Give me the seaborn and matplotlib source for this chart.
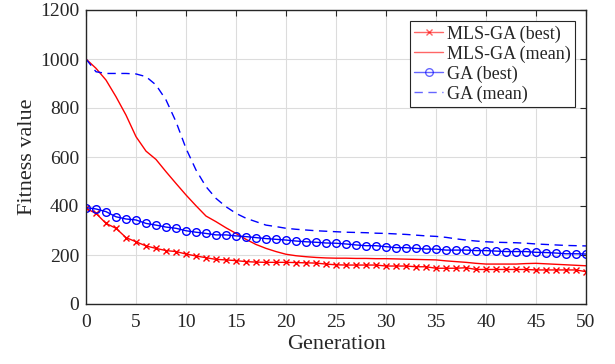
import matplotlib
matplotlib.use("Agg")
import matplotlib.pyplot as plt
import seaborn as sns
import pandas as pd

generations = list(range(51))
mls_best = [390, 370, 329, 309, 271, 254, 237, 227, 218, 214,
            204, 196, 189, 182, 180, 177, 173, 171, 170, 170,
            170, 169, 168, 167, 163, 160, 159, 159, 159, 159,
            155, 155, 155, 152, 152, 146, 146, 146, 148, 141,
            141, 141, 141, 141, 141, 139, 139, 139, 139, 139, 132]
mls_mean = [1000, 962, 914, 846, 771, 683, 624, 590, 540, 492,
            445, 401, 359, 336, 311, 288, 264, 243, 227, 214,
            203, 197, 193, 190, 188, 187, 187, 186, 186, 185,
            185, 184, 183, 182, 181, 180, 176, 173, 170, 166,
            163, 163, 163, 163, 165, 166, 164, 162, 160, 158, 156]
ga_best = [393, 388, 377, 356, 347, 343, 329, 322, 314, 309,
           299, 293, 288, 282, 282, 278, 275, 271, 267, 264,
           261, 257, 254, 252, 249, 248, 245, 241, 238, 238,
           234, 230, 230, 227, 224, 224, 220, 220, 220, 218,
           218, 216, 214, 214, 214, 211, 210, 208, 205, 205, 204]
ga_mean = [1000, 948, 941, 941, 941, 939, 928, 894, 833, 744,
           635, 547, 479, 431, 397, 370, 350, 336, 322, 316,
           309, 305, 302, 299, 297, 295, 293, 292, 291, 289,
           288, 286, 284, 281, 278, 276, 272, 266, 261, 257,
           254, 252, 251, 250, 248, 245, 243, 241, 239, 238, 237]

series_names = ["MLS-GA (best)", "MLS-GA (mean)", "GA (best)", "GA (mean)"]
series_vals = [mls_best, mls_mean, ga_best, ga_mean]
xticks = [0, 5, 10, 15, 20, 25, 30, 35, 40, 45, 50]
yticks = [0, 200, 400, 600, 800, 1000, 1200]

rows = []
for name, vals in zip(series_names, series_vals):
    for g, v in zip(generations, vals):
        rows.append({"Generation": g, "Fitness": v, "Series": name})
df = pd.DataFrame(rows)

sns.set_theme(style="whitegrid")
plt.rcParams["font.family"] = ["Liberation Serif", "DejaVu Serif"]

fig = plt.figure(figsize=(6.15, 3.64), dpi=100)
ax = fig.add_axes([86/615, 1-304/364, 500/615, 294/364])

styles = {
    "MLS-GA (best)": dict(color="#ff0000", ls="-", marker="x", ms=5, mfc="#ff0000"),
    "MLS-GA (mean)": dict(color="#ff0000", ls="-", marker="None", ms=0, mfc="#ff0000"),
    "GA (best)": dict(color="#0000ff", ls="-", marker="o", ms=5.5, mfc="none"),
    "GA (mean)": dict(color="#0000ff", ls=(0, (6, 4)), marker="None", ms=0, mfc="none"),
}
for name in series_names:
    sub = df[df["Series"] == name]
    st = styles[name]
    sns.lineplot(data=sub, x="Generation", y="Fitness", ax=ax, legend=False,
                 estimator=None, color=st["color"], linewidth=1.0, label=name)
    line = ax.lines[-1]
    line.set_linestyle(st["ls"])
    line.set_marker(st["marker"])
    line.set_markersize(st["ms"])
    line.set_markeredgewidth(1.0)
    line.set_markeredgecolor(st["color"])
    line.set_markerfacecolor(st["mfc"])

ax.set_xlim(0, 50)
ax.set_ylim(0, 1200)
ax.set_xticks(xticks)
ax.set_yticks(yticks)
ax.grid(True, color="#dcdcdc", linewidth=0.8)
for s in ax.spines.values():
    s.set_color("#262626")
    s.set_linewidth(1.0)
ax.tick_params(direction="in", length=4, width=0.8, colors="#262626",
               labelsize=14, top=True, right=True, labelcolor="#262626")
ax.tick_params(axis="x", pad=7)
ax.tick_params(axis="y", pad=5)
ax.set_xlabel("Generation", fontsize=16, color="#262626", labelpad=3)
ax.set_ylabel("Fitness value", fontsize=16, color="#262626", labelpad=2)

handles = ax.lines[:4]
labels = series_names
leg = ax.legend(handles, labels, loc="upper right", fontsize=13, frameon=True,
                fancybox=False, edgecolor="#262626", framealpha=1,
                borderpad=0.25, labelspacing=0.15, handlelength=1.6,
                handletextpad=0.2, borderaxespad=0.6)
leg.get_frame().set_linewidth(0.8)
for h in leg.legend_handles:
    h.set_alpha(0.6)

fig.savefig("out.png", dpi=100)
